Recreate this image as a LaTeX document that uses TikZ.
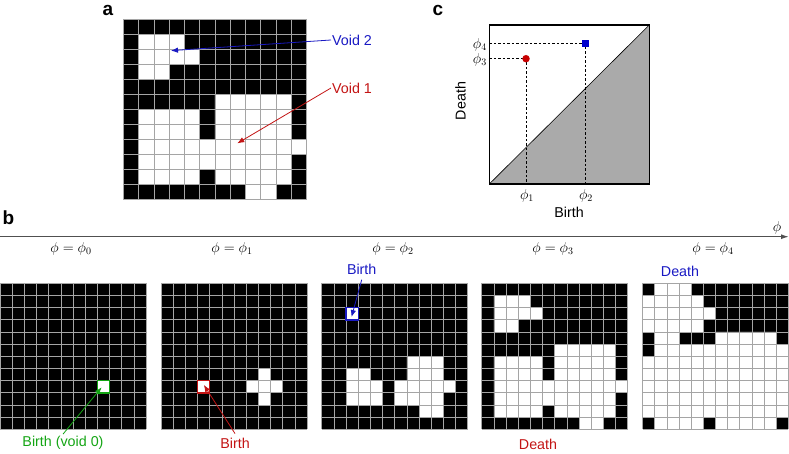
\documentclass[tikz,border=0pt]{standalone}
\usepackage{fontspec}
\setmainfont{Liberation Sans}
\usetikzlibrary{arrows.meta}
\definecolor{myblue}{RGB}{25,25,195}
\definecolor{myred}{RGB}{195,20,20}
\definecolor{mygreen}{RGB}{20,165,20}
\definecolor{gridc}{RGB}{165,165,165}
\definecolor{tricol}{RGB}{170,170,170}
\definecolor{axisc}{RGB}{80,80,80}
\definecolor{ptred}{RGB}{200,0,0}
\definecolor{ptblue}{RGB}{0,0,205}
\tikzset{
  txt/.style={font=\fontsize{14.3}{16}\selectfont, inner sep=1pt},
  mth/.style={font=\fontsize{14.4}{17}\selectfont, inner sep=1pt},
  plabel/.style={font=\fontsize{19}{22}\selectfont\bfseries, inner sep=0pt, anchor=base},
  gridline/.style={draw=gridc, line width=0.7pt},
  arr/.style={-{Latex[length=7pt,width=5.5pt]}, line width=0.8pt},
  dsh/.style={dash pattern=on 2.5pt off 2pt, line width=0.6pt},
}
\newcommand{\mygridlines}{%
  \foreach \k in {0,...,12} {\draw[gridline] (\k,0) -- (\k,12); \draw[gridline] (0,\k) -- (12,\k);}%
}
\begin{document}
\begin{tikzpicture}[x=1pt,y=-1pt]
\useasboundingbox (0,0) rectangle (789,454);

% ---------------- panel a ----------------
\node[plabel] (la) at (108,16) {a};
\begin{scope}[shift={(123.3pt,-19.3pt)}, x=15.28pt, y=-15pt]
  \fill[black] (0,0) rectangle (12,12);
  \fill[white] (1,1) rectangle (4,2) (1,2) rectangle (5,3) (1,3) rectangle (3,4)
    (6,5) rectangle (11,11) (1,6) rectangle (5,11) (5,8) rectangle (6,10)
    (11,8) rectangle (12,9) (8,11) rectangle (10,12);
  \mygridlines
  \coordinate (v2tip) at (3.12,2.09);
  \coordinate (v1tip) at (7.46,8.27);
\end{scope}
\node[txt, text=myblue, anchor=west] (void2) at (331,40) {Void 2};
\node[txt, text=myred, anchor=west] (void1) at (331,88) {Void 1};
\draw[arr, myblue] (void2.west) -- (v2tip);
\draw[arr, myred] (void1.west) -- (v1tip);

% ---------------- panel c ----------------
\node[plabel] (lc) at (438,16) {c};
\coordinate (cTL) at (489.3,25);
\coordinate (cTR) at (649.3,25);
\coordinate (cBL) at (489.3,184);
\coordinate (cBR) at (649.3,184);
\fill[tricol] (cBL) -- (cTR) -- (cBR) -- cycle;
\draw[line width=0.6pt] (cBL) -- (cTR);
\coordinate (c1) at (526,58.7);
\coordinate (c2) at (585,43.7);
\coordinate (d3L) at (489.3,58.7);
\coordinate (d4L) at (489.3,43.7);
\coordinate (d1B) at (526,184);
\coordinate (d2B) at (585,184);
\draw[dsh] (d3L) -- (c1) -- (d1B);
\draw[dsh] (d4L) -- (c2) -- (d2B);
\draw[line width=1.1pt] (cTL) rectangle (cBR);
\node[circle, fill=ptred, inner sep=0pt, minimum size=7.5pt] (pt1) at (c1) {};
\node[rectangle, fill=ptblue, inner sep=0pt, minimum size=7pt] (pt2) at (c2) {};
\node[mth, anchor=east] (lphi4) at (488,44.5) {$\phi_4$};
\node[mth, anchor=east] (lphi3) at (488,59.5) {$\phi_3$};
\node[mth] (lphi1) at (527,196) {$\phi_1$};
\node[mth] (lphi2) at (586,196) {$\phi_2$};
\node[txt] (birthc) at (569,212) {Birth};
\node[txt, rotate=90] (deathc) at (460.5,101) {Death};

% ---------------- panel b ----------------
\node[plabel] (lb) at (8.5,225) {b};
\coordinate (axL) at (0,236.7);
\coordinate (axR) at (789,236.7);
\draw[axisc, line width=1.3pt, -{Latex[length=8pt,width=5pt]}] (axL) -- (axR);
\node[mth] (phiax) at (777,228) {$\phi$};
\node[mth] (f0) at (71,249) {$\phi=\phi_0$};
\node[mth] (f1) at (232,249) {$\phi=\phi_1$};
\node[mth] (f2) at (393,249) {$\phi=\phi_2$};
\node[mth] (f3) at (553,249) {$\phi=\phi_3$};
\node[mth] (f4) at (713,249) {$\phi=\phi_4$};

% phi0
\begin{scope}[shift={(0pt,-283.3pt)}, x=12.17pt, y=-12.17pt]
  \fill[black] (0,0) rectangle (12,12);
  \mygridlines
  \draw[mygreen, line width=1.4pt, fill=white] (8,8) rectangle (9,9);
  \coordinate (g0tip) at (8.35,8.55);
\end{scope}
% phi1
\begin{scope}[shift={(161pt,-283.3pt)}, x=12.17pt, y=-12.17pt]
  \fill[black] (0,0) rectangle (12,12);
  \fill[white] (8,7) rectangle (9,10) (7,8) rectangle (10,9);
  \mygridlines
  \draw[myred, line width=1.4pt, fill=white] (3,8) rectangle (4,9);
  \coordinate (r1tip) at (3.52,8.35);
\end{scope}
% phi2
\begin{scope}[shift={(321.7pt,-283.3pt)}, x=12.17pt, y=-12.17pt]
  \fill[black] (0,0) rectangle (12,12);
  \fill[white] (7,6) rectangle (10,8) (2,7) rectangle (4,8) (2,8) rectangle (5,10)
    (6,8) rectangle (11,9) (6,9) rectangle (10,10) (8,10) rectangle (10,11);
  \mygridlines
  \draw[myblue, line width=1.4pt, fill=white] (2,2) rectangle (3,3);
  \coordinate (b2tip) at (2.45,2.77);
\end{scope}
% phi3
\begin{scope}[shift={(481.7pt,-283.3pt)}, x=12.17pt, y=-12.17pt]
  \fill[black] (0,0) rectangle (12,12);
  \fill[white] (1,1) rectangle (4,2) (1,2) rectangle (5,3) (1,3) rectangle (3,4)
    (6,5) rectangle (11,11) (1,6) rectangle (5,11) (5,8) rectangle (6,10)
    (11,8) rectangle (12,9) (8,11) rectangle (10,12);
  \mygridlines
\end{scope}
% phi4
\begin{scope}[shift={(642.7pt,-283.3pt)}, x=12.13pt, y=-12.17pt]
  \fill[black] (0,0) rectangle (12,12);
  \fill[white] (1,0) rectangle (4,1) (0,1) rectangle (5,2) (0,2) rectangle (6,3)
    (0,3) rectangle (5,4) (1,4) rectangle (3,5) (6,4) rectangle (11,5)
    (1,5) rectangle (12,6) (0,6) rectangle (12,11) (1,11) rectangle (5,12)
    (6,11) rectangle (11,12);
  \mygridlines
\end{scope}

\node[txt, text=mygreen] (b0lab) at (63,443) {Birth (void 0)};
\node[txt, text=myred] (b1lab) at (235,443) {Birth};
\node[txt, text=myblue] (b2lab) at (361.7,269.3) {Birth};
\node[txt, text=myred] (d3lab) at (538,444) {Death};
\node[txt, text=myblue] (d4lab) at (680,271.7) {Death};
\draw[arr, mygreen] ([yshift=1pt]b0lab.north) -- (g0tip);
\draw[arr, myred] ([yshift=3pt]b1lab.north) -- (r1tip);
\draw[arr, myblue] ([yshift=-4pt]b2lab.south) -- (b2tip);
\end{tikzpicture}
\end{document}
